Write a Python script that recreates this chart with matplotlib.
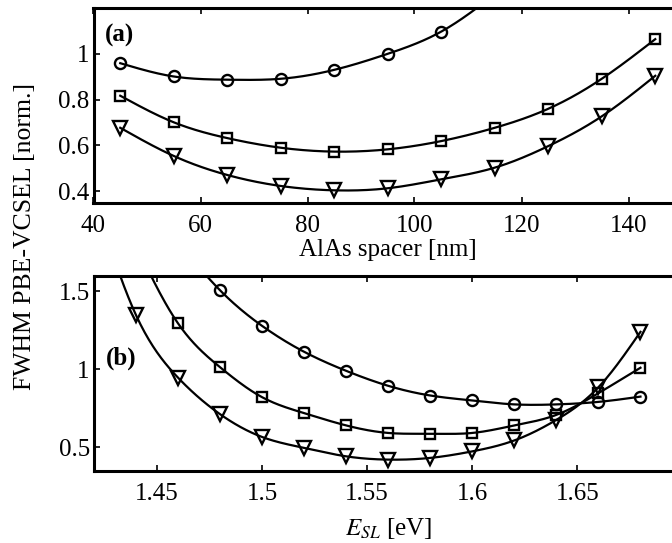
import numpy as np
import matplotlib
matplotlib.use("Agg")
import matplotlib.pyplot as plt
from matplotlib.ticker import FuncFormatter

plt.rcParams['font.family'] = ['Liberation Serif', 'DejaVu Serif']
plt.rcParams['mathtext.fontset'] = 'stix'

# ---- data: panel (a) ----
spacer_nm = [45, 55, 65, 75, 85, 95, 105, 115, 125, 135, 145]
a_circle = [0.959, 0.901, 0.887, 0.891, 0.930, 1.000, 1.097, 1.26, 1.45, 1.66, 1.90]
a_square = [0.817, 0.701, 0.632, 0.590, 0.573, 0.583, 0.619, 0.677, 0.760, 0.891, 1.064]
a_tri = [0.677, 0.554, 0.471, 0.423, 0.404, 0.413, 0.452, 0.503, 0.597, 0.727, 0.904]

# ---- data: panel (b) ----
esl_ev = [1.42, 1.44, 1.46, 1.48, 1.50, 1.52, 1.54, 1.56, 1.58, 1.60, 1.62, 1.64, 1.66, 1.68]
b_circle = [2.70, 2.20, 1.82, 1.506, 1.278, 1.112, 0.990, 0.894, 0.832, 0.800, 0.775, 0.775, 0.791, 0.825]
b_square = [2.40, 1.80, 1.294, 1.013, 0.821, 0.719, 0.640, 0.592, 0.587, 0.592, 0.640, 0.708, 0.847, 1.010]
b_tri = [2.10, 1.347, 0.946, 0.712, 0.566, 0.496, 0.442, 0.421, 0.432, 0.474, 0.544, 0.676, 0.885, 1.240]


def smooth(x, y, n=400):
    """Natural cubic spline through the given points (for drawing the line)."""
    x = np.asarray(x, float)
    y = np.asarray(y, float)
    m = len(x)
    h = np.diff(x)
    A = np.zeros((m, m))
    r = np.zeros(m)
    A[0, 0] = A[-1, -1] = 1.0
    for i in range(1, m - 1):
        A[i, i - 1] = h[i - 1]
        A[i, i] = 2 * (h[i - 1] + h[i])
        A[i, i + 1] = h[i]
        r[i] = 3 * ((y[i + 1] - y[i]) / h[i] - (y[i] - y[i - 1]) / h[i - 1])
    c = np.linalg.solve(A, r)
    b = (y[1:] - y[:-1]) / h - h * (2 * c[:-1] + c[1:]) / 3
    d = (c[1:] - c[:-1]) / (3 * h)
    xs = np.linspace(x[0], x[-1], n)
    idx = np.clip(np.searchsorted(x, xs) - 1, 0, m - 2)
    dx = xs - x[idx]
    ys = y[idx] + b[idx] * dx + c[idx] * dx ** 2 + d[idx] * dx ** 3
    return xs, ys


fig = plt.figure(figsize=(6.72, 5.43), dpi=100)
W = (682 - 93.5) / 672
ax1 = fig.add_axes([93.5 / 672, 1 - 202.7 / 543, W, (202.7 - 8) / 543])
ax2 = fig.add_axes([94.0 / 672, 1 - 470.7 / 543, W, (470.7 - 275.7) / 543])

sizes = {'o': 8, 's': 7.5, 'v': 10}

for ax, xv, series in [
    (ax1, spacer_nm, [(a_circle, 'o'), (a_square, 's'), (a_tri, 'v')]),
    (ax2, esl_ev, [(b_circle, 'o'), (b_square, 's'), (b_tri, 'v')]),
]:
    for yv, m in series:
        xs, ys = smooth(xv, yv)
        ax.plot(xs, ys, color='black', lw=1.6)
        ax.plot(xv, yv, marker=m, linestyle='none', markerfacecolor='none',
                markeredgecolor='black', markersize=sizes[m],
                markeredgewidth=1.7)

fmt = FuncFormatter(lambda v, p: '%g' % v)

ax1.set_xlim(40, 150)
ax1.set_ylim(0.35, 1.2)
ax1.set_xticks([40, 60, 80, 100, 120, 140])
ax1.set_yticks([0.4, 0.6, 0.8, 1.0])
ax1.set_xlabel('AlAs spacer [nm]', fontsize=18, labelpad=1)

ax2.set_xlim(1.42, 1.70)
ax2.set_ylim(0.35, 1.6)
ax2.set_xticks([1.45, 1.5, 1.55, 1.6, 1.65])
ax2.set_yticks([0.5, 1.0, 1.5])
ax2.set_xlabel(r'$E_{SL}$ [eV]', fontsize=18, labelpad=8)

for ax in (ax1, ax2):
    ax.xaxis.set_major_formatter(fmt)
    ax.yaxis.set_major_formatter(fmt)
    ax.spines['right'].set_visible(False)
    for s in ('left', 'top', 'bottom'):
        ax.spines[s].set_linewidth(2.2)
    ax.tick_params(direction='in', top=True, right=False, length=4, width=1.2,
                   labelsize=18)
    ax.tick_params(axis='x', pad=9)
    ax.tick_params(axis='y', pad=3)

ax1.text(0.02, 0.86, '(a)', transform=ax1.transAxes, fontsize=18,
         fontweight='bold', va='center', ha='left')
ax2.text(0.02, 0.578, '(b)', transform=ax2.transAxes, fontsize=18,
         fontweight='bold', va='center', ha='left')

fig.text(25 / 672, 1 - 236 / 543, 'FWHM PBE-VCSEL [norm.]', rotation=90,
         fontsize=18.5, va='center', ha='center')

fig.savefig('out.png', dpi=100)
